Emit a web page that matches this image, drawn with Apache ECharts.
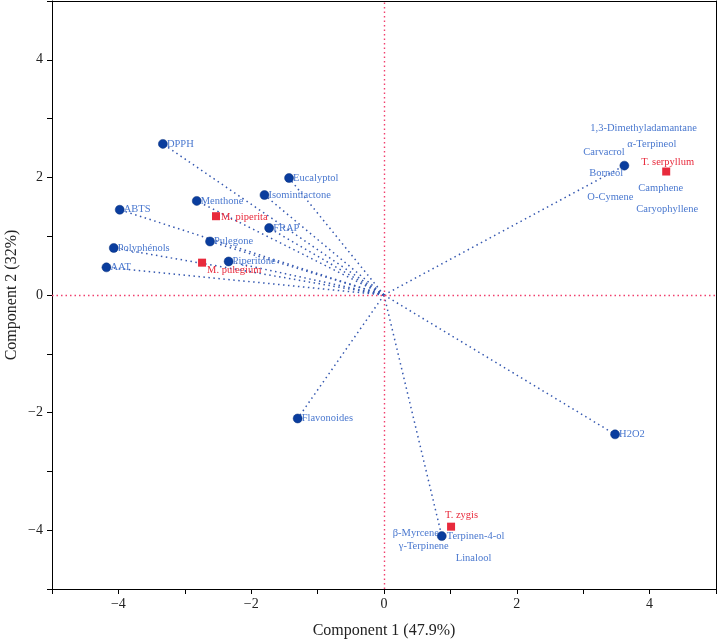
<!DOCTYPE html>
<html>
<head>
<meta charset="utf-8">
<script src="https://cdn.jsdelivr.net/npm/echarts@6/dist/echarts.min.js"></script>
<style>html,body{margin:0;padding:0;background:#fff}#c{width:717px;height:640px}</style>
</head>
<body>
<div id="c"></div>
<script>
// Variable loadings (blue points)
const loadingNames = ['DPPH','Eucalyptol','Isomintlactone','Menthone','ABTS','FRAP','Pulegone','Polyphénols','Piperitone','AAT','Flavonoides','H2O2','Borneol','Terpinen-4-ol'];
const loadingX = [-3.33,-1.43,-1.80,-2.82,-3.98,-1.73,-2.62,-4.07,-2.34,-4.18,-1.30,3.48,3.62,0.87];
const loadingY = [2.57,1.99,1.70,1.60,1.45,1.14,0.91,0.80,0.57,0.47,-2.10,-2.37,2.20,-4.10];
// Variables sharing a plotted point with another variable
const coLocatedWithBorneol = ['1,3-Dimethyladamantane','α-Terpineol','Carvacrol','Camphene','O-Cymene','Caryophyllene'];
const coLocatedWithTerpinen = ['β-Myrcene','γ-Terpinene','Linalool'];
// Samples (red squares)
const sampleNames = ['M. piperita','M. pulegium','T. serpyllum','T. zygis'];
const sampleX = [-2.53,-2.74,4.25,1.01];
const sampleY = [1.34,0.55,2.10,-3.94];
// Axis ticks
const axisMin = -5, axisMax = 5, tickStep = 1;

// label offsets (styling only)
const labelOffsets = {
  'Borneol':[-35,8],
  'Terpinen-4-ol':[5,0],
  '1,3-Dimethyladamantane':[-34,-37],
  'α-Terpineol':[3,-21],
  'Carvacrol':[-41,-13],
  'Camphene':[14,23],
  'O-Cymene':[-37,32],
  'Caryophyllene':[12,44],
  'β-Myrcene':[-49,-3],
  'γ-Terpinene':[-43,10],
  'Linalool':[14,22],
  'M. piperita':[5,1],
  'M. pulegium':[5,8],
  'T. serpyllum':[-25,-9],
  'T. zygis':[-6,-11]
};
const FONT = '"Liberation Serif","DejaVu Serif",serif';
const BLUE_TXT = '#4a78cf';
const RED = '#e82a3c';

function fmt(v){ if (v % 2 !== 0 || v === axisMin || v === axisMax) return ''; return v < 0 ? '\u2212' + Math.abs(v) : String(v); }

const loadingData = loadingNames.map((n,i)=>({
  name:n, value:[loadingX[i],loadingY[i]],
  label:{offset: labelOffsets[n] || [4,0]}
}));
const idxB = loadingNames.indexOf('Borneol');
const idxT = loadingNames.indexOf('Terpinen-4-ol');
const extraLabels = coLocatedWithBorneol.map(n=>({name:n,value:[loadingX[idxB],loadingY[idxB]],label:{offset:labelOffsets[n]}}))
  .concat(coLocatedWithTerpinen.map(n=>({name:n,value:[loadingX[idxT],loadingY[idxT]],label:{offset:labelOffsets[n]}})));
const lineData = loadingNames.map((n,i)=>({coords:[[0,0],[loadingX[i],loadingY[i]]]}));
const sampleData = sampleNames.map((n,i)=>({name:n,value:[sampleX[i],sampleY[i]],label:{offset:labelOffsets[n]}}));

const axisCommon = {
  min:axisMin, max:axisMax, interval:tickStep,
  axisLine:{show:true,onZero:false,lineStyle:{color:'#000',width:1}},
  axisTick:{show:true,inside:false,length:5,lineStyle:{color:'#000'}},
  splitLine:{show:false},
  axisLabel:{formatter:fmt,color:'#222',fontFamily:FONT,fontSize:14},
  nameLocation:'middle',
  nameTextStyle:{fontFamily:FONT,fontSize:16,color:'#222'}
};
const frameAxis = {min:axisMin,max:axisMax,interval:tickStep,axisLine:{show:true,onZero:false,lineStyle:{color:'#000'}},axisTick:{show:false},axisLabel:{show:false},splitLine:{show:false}};

const chart = echarts.init(document.getElementById('c'),null,{renderer:'canvas'});
chart.setOption({
  animation:false,
  backgroundColor:'#fff',
  grid:{left:52,right:1,top:1,bottom:51,containLabel:false,outerBoundsMode:'none'},
  xAxis:[
    Object.assign({},axisCommon,{type:'value',position:'bottom',name:'Component 1 (47.9%)',nameGap:34}),
    Object.assign({},frameAxis,{type:'value',position:'top'})
  ],
  yAxis:[
    Object.assign({},axisCommon,{type:'value',position:'left',name:'Component 2 (32%)',nameGap:32,nameMoveOverlap:false,axisLabel:Object.assign({},axisCommon.axisLabel,{margin:9})}),
    Object.assign({},frameAxis,{type:'value',position:'right'})
  ],
  series:[
    {
      type:'lines', coordinateSystem:'cartesian2d', xAxisIndex:0, yAxisIndex:0,
      data:lineData, silent:true,
      lineStyle:{color:'#3558b0',width:1.5,type:[1.5,3.5],opacity:1},
      z:2
    },
    {
      type:'scatter', xAxisIndex:0, yAxisIndex:0, data:[], silent:true,
      markLine:{
        silent:true, symbol:'none', animation:false,
        lineStyle:{color:'#f0406e',width:1.4,type:[1.5,3],opacity:1},
        label:{show:false},
        data:[{xAxis:0},{yAxis:0}]
      },
      z:1
    },
    {
      type:'scatter', xAxisIndex:0, yAxisIndex:0,
      data:loadingData, symbol:'circle', symbolSize:9,
      itemStyle:{color:'#0a3d9e',borderColor:'#08307c',borderWidth:0.5,opacity:1},
      label:{show:true,position:'inside',align:'left',verticalAlign:'middle',formatter:'{b}',color:BLUE_TXT,fontFamily:FONT,fontSize:10.5},
      z:5
    },
    {
      type:'scatter', xAxisIndex:0, yAxisIndex:0,
      data:extraLabels, symbolSize:0, silent:true,
      itemStyle:{opacity:1},
      label:{show:true,position:'inside',align:'left',verticalAlign:'middle',formatter:'{b}',color:BLUE_TXT,fontFamily:FONT,fontSize:10.5},
      z:4
    },
    {
      type:'scatter', xAxisIndex:0, yAxisIndex:0,
      data:sampleData, symbol:'rect', symbolSize:8,
      itemStyle:{color:RED,opacity:1},
      label:{show:true,position:'inside',align:'left',verticalAlign:'middle',formatter:'{b}',color:RED,fontFamily:FONT,fontSize:10.5},
      z:6
    }
  ]
});
</script>
</body>
</html>
